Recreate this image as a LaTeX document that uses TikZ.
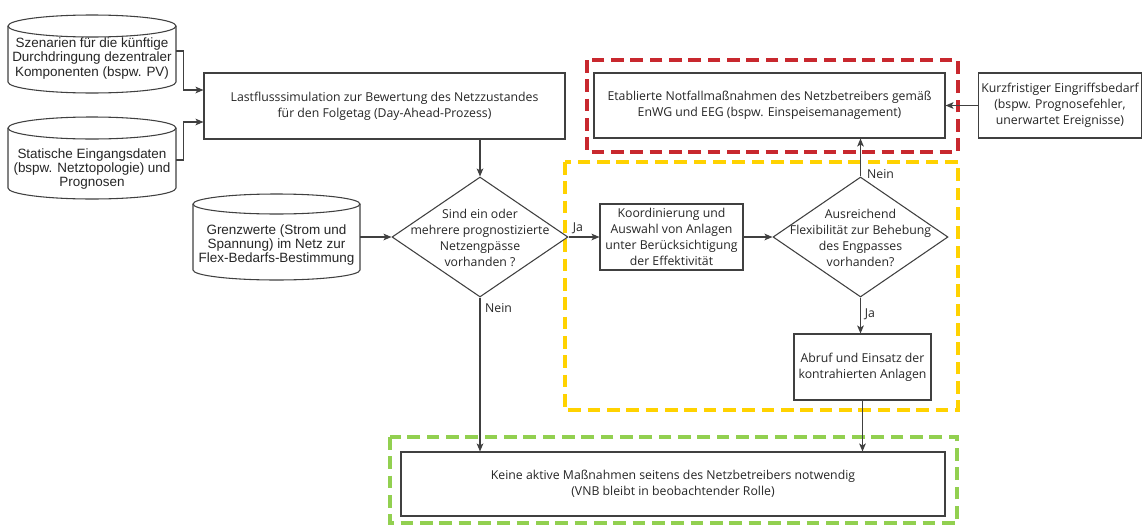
\documentclass[tikz,border=0pt]{standalone}
\usepackage{fontspec}
\setmainfont{Open Sans}
\newfontfamily\arialfont{Liberation Sans}
\usetikzlibrary{shapes.geometric, arrows.meta, calc}

\definecolor{edgegray}{HTML}{404040}
\definecolor{inkgray}{HTML}{262626}
\definecolor{frameRed}{HTML}{C8282E}
\definecolor{frameYellow}{HTML}{FFD200}
\definecolor{frameGreen}{HTML}{92D050}

\tikzset{
  box/.style={draw=edgegray, line width=0.8pt, fill=white, align=center, inner sep=2pt,
    text=inkgray, font=\fontsize{9.2}{12}\selectfont},
  decision/.style={diamond, draw=edgegray, line width=0.8pt, fill=white, inner sep=0pt},
  txt/.style={align=center, inner sep=0pt, text=inkgray, font=\fontsize{9.2}{12}\selectfont},
  drumtxt/.style={align=center, inner sep=0pt, text=inkgray, font=\arialfont\fontsize{10.1}{10.8}\selectfont},
  flow/.style={draw=edgegray, line width=0.8pt, -{Stealth[length=6pt,width=5pt,inset=1.5pt]}},
  plain/.style={draw=edgegray, line width=0.8pt},
  lbl/.style={inner sep=0pt, text=inkgray, font=\fontsize{9.2}{12}\selectfont},
  frame/.style={line width=2.5pt, dash pattern=on 9.5pt off 5pt},
}

% data store drawn as a cylinder: name, x1, y1, x2, y2, ry (y grows downward)
\newcommand\drum[6]{%
  \draw[plain, fill=white] (#2,{-(#3+#6)}) -- (#2,{-(#5-#6)})
    arc[start angle=180, end angle=360, x radius={(#4-#2)/2*0.75pt}, y radius={#6*0.75pt}]
    -- (#4,{-(#3+#6)})
    arc[start angle=0, end angle=180, x radius={(#4-#2)/2*0.75pt}, y radius={#6*0.75pt}]
    -- cycle;
  \draw[plain] (#2,{-(#3+#6)})
    arc[start angle=180, end angle=360, x radius={(#4-#2)/2*0.75pt}, y radius={#6*0.75pt}];
  \node[inner sep=0pt, minimum width={(#4-#2)*0.75pt}, minimum height={(#5-#3)*0.75pt}]
    (#1) at ({(#2+#4)/2},{-(#3+#5)/2}) {};
}

\begin{document}
\begin{tikzpicture}[x=0.75pt, y=0.75pt]
\useasboundingbox (0,0) rectangle (1142,-525);

% coloured groupings
\draw[frame, frameRed] (587,-60) rectangle (958,-152);
\draw[frame, frameYellow] (565,-162) rectangle (958,-410);
\draw[frame, frameGreen] (390,-437) rectangle (957,-523);

% input data stores
\drum{cylA}{8}{15}{176}{93}{11}
\node[drumtxt] (tA) at (92,-58.5) {Szenarien für die künftige\\Durchdringung dezentraler\\Komponenten (bspw. PV)};
\drum{cylB}{8}{117}{176}{199}{11}
\node[drumtxt] (tB) at (92,-169) {Statische Eingangsdaten\\(bspw. Netztopologie) und\\Prognosen};
\drum{cylC}{193}{194}{360}{280}{10}
\node[drumtxt] (tC) at (276.5,-245) {Grenzwerte (Strom und\\Spannung) im Netz zur\\Flex-Bedarfs-Bestimmung};

% process boxes
\node[box, minimum width={361*0.75pt}, minimum height={66*0.75pt}] (sim) at (384.5,-106)
  {Lastflusssimulation zur Bewertung des Netzzustandes\\für den Folgetag (Day-Ahead-Prozess)};
\node[box, minimum width={351*0.75pt}, minimum height={65*0.75pt}] (etab) at (769.5,-105.5)
  {Etablierte Notfallmaßnahmen des Netzbetreibers gemäß\\EnWG und EEG (bspw. Einspeisemanagement)};
\node[box, minimum width={160*0.75pt}, minimum height={65*0.75pt}] (kurz) at (1060,-105.5)
  {Kurzfristiger Eingriffsbedarf\\(bspw. Prognosefehler,\\unerwartet Ereignisse)};
\node[box, minimum width={143*0.75pt}, minimum height={66*0.75pt}] (koord) at (671.5,-237)
  {Koordinierung und\\Auswahl von Anlagen\\unter Berücksichtigung\\der Effektivität};
\node[box, minimum width={137*0.75pt}, minimum height={66*0.75pt}] (abruf) at (862.5,-367)
  {Abruf und Einsatz der\\kontrahierten Anlagen};
\node[box, minimum width={544*0.75pt}, minimum height={64*0.75pt}] (keine) at (673,-484)
  {Keine aktive Maßnahmen seitens des Netzbetreibers notwendig\\(VNB bleibt in beobachtender Rolle)};

% decisions
\node[decision, minimum width={176*0.75pt}, minimum height={120*0.75pt}] (d1) at (480,-237) {};
\node[txt] (d1t) at (480,-238) {Sind ein oder\\mehrere prognostizierte\\Netzengpässe\\vorhanden ?};
\node[decision, minimum width={175*0.75pt}, minimum height={120*0.75pt}] (d2) at (860.5,-237) {};
\node[txt] (d2t) at (860.5,-237.5) {Ausreichend\\Flexibilität zur Behebung\\des Engpasses\\vorhanden?};

% connectors
\draw[flow] ($(cylA.east)+(0,3)$) -- ++(7,0) |- ($(sim.west)+(0,16)$);
\draw[flow] ($(cylB.east)+(0,-2)$) -- ++(7,0) |- ($(sim.west)+(0,-16)$);
\draw[flow] (sim.south -| d1.north) -- (d1.north);
\draw[flow] (cylC.east) -- (d1.west);
\draw[flow] (d1.east) -- (koord.west);
\draw[flow] (koord.east) -- (d2.west);
\draw[flow] (d2.north) -- (d2.north |- etab.south);
\draw[flow] (kurz.west) -- (etab.east);
\draw[flow] (d2.south) -- (d2.south |- abruf.north);
\draw[flow] (abruf.south) -- (abruf.south |- keine.north);
\draw[flow] (d1.south) -- (d1.south |- keine.north);

% branch labels
\node[lbl] (ja1) at (578,-228) {Ja};
\node[lbl] (nein1) at (498.5,-308) {Nein};
\node[lbl] (nein2) at (880.5,-174) {Nein};
\node[lbl] (ja2) at (870,-314) {Ja};
\end{tikzpicture}
\end{document}
